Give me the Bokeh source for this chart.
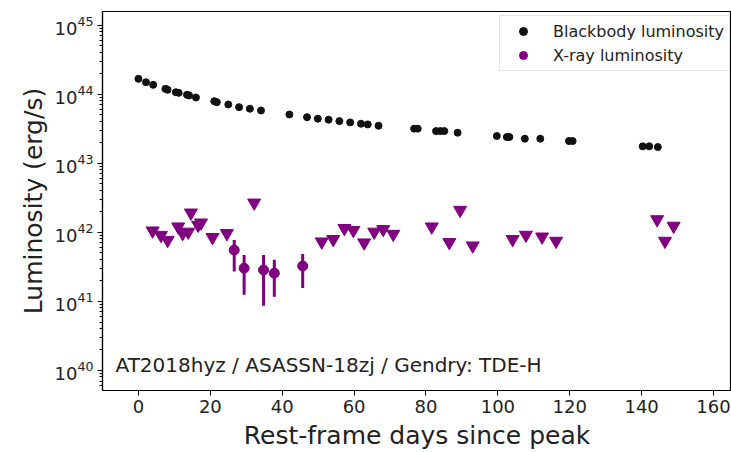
from bokeh.plotting import figure
from bokeh.models import (Range1d, FixedTicker, LogTickFormatter, Label,
                          Legend, LegendItem, ColumnDataSource)
from bokeh.embed import file_html
from bokeh.resources import INLINE

# ---- data ----
bb_days = [0.0, 2.1, 4.1, 7.5, 8.1, 10.4, 11.2, 13.5, 14.1, 16.0,
           21.1, 21.8, 25.0, 28.0, 31.0, 34.1, 42.0,
           46.9, 49.9, 52.9, 55.9, 58.9, 61.9, 63.8, 66.8,
           76.7, 77.7, 82.8, 84.0, 85.1, 88.8, 99.7, 102.5, 103.2,
           107.5, 111.8, 119.8, 120.8, 140.3, 142.1, 144.5]
bb_lum = [1.663e44, 1.483e44, 1.361e44, 1.191e44, 1.153e44, 1.064e44, 1.042e44,
          9.77e43, 9.55e43, 8.93e43,
          7.89e43, 7.64e43, 7.08e43, 6.47e43, 6.14e43, 5.79e43, 5.07e43,
          4.63e43, 4.40e43, 4.26e43, 4.06e43, 3.89e43, 3.72e43, 3.64e43, 3.48e43,
          3.16e43, 3.16e43, 2.91e43, 2.91e43, 2.91e43, 2.76e43, 2.47e43, 2.39e43, 2.39e43,
          2.26e43, 2.26e43, 2.09e43, 2.09e43, 1.75e43, 1.75e43, 1.71e43]

xul_days = [3.95, 6.26, 8.12, 11.07, 12.3, 13.86, 14.6, 16.6, 17.4, 20.6, 24.6,
            32.2, 51.0, 54.2, 57.3, 59.8, 62.8, 65.6, 68.1, 70.9,
            81.6, 86.5, 89.5, 93.0, 104.1, 107.8, 112.3, 116.2,
            144.3, 146.5, 148.9]
xul_lum = [1.05e42, 9.06e41, 7.67e41, 1.20e42, 9.62e41, 1.01e42, 1.91e42, 1.27e42,
           1.37e42, 8.43e41, 9.62e41,
           2.66e42, 7.28e41, 7.89e41, 1.14e42, 1.07e42, 7.05e41, 1.01e42, 1.10e42, 9.40e41,
           1.20e42, 7.13e41, 2.09e42, 6.37e41, 7.89e41, 9.10e41, 8.59e41, 7.45e41,
           1.53e42, 7.45e41, 1.23e42]

xdet_days = [26.65, 29.4, 34.8, 37.8, 45.7]
xdet_lum = [5.52e41, 3.01e41, 2.84e41, 2.55e41, 3.24e41]
xdet_lo = [2.69e41, 1.24e41, 8.59e40, 1.16e41, 1.55e41]
xdet_hi = [7.71e41, 4.68e41, 4.68e41, 3.98e41, 4.84e41]

x_ticks = [0, 20, 40, 60, 80, 100, 120, 140, 160]
y_exponents = [40, 41, 42, 43, 44, 45]

label_text = "AT2018hyz / ASASSN-18zj / Gendry: TDE-H"
FONT = "DejaVu Sans"
PURPLE = "#800080"
TXT = "#222222"

# ---- figure ----
p = figure(width=731, height=452, y_axis_type="log",
           x_range=Range1d(-10, 165), y_range=Range1d(5.1e39, 1.57e45),
           output_backend="svg", toolbar_location=None,
           min_border_left=102, min_border_right=0,
           min_border_top=11, min_border_bottom=61)
p.grid.visible = False
p.outline_line_color = "black"
p.outline_line_width = 1.2
p.background_fill_color = "white"
p.border_fill_color = "white"

major_y = [10.0 ** e for e in y_exponents]
minor_y = [m * 10.0 ** e for e in range(39, 46) for m in range(2, 10)]
p.yaxis.ticker = FixedTicker(ticks=major_y, minor_ticks=minor_y)
p.yaxis.formatter = LogTickFormatter()
p.xaxis.ticker = FixedTicker(ticks=x_ticks, minor_ticks=[])

for ax in (p.xaxis[0], p.yaxis[0]):
    ax.axis_line_color = "black"
    ax.axis_line_width = 1.2
    ax.major_tick_in = 0
    ax.major_tick_out = 5
    ax.minor_tick_in = 0
    ax.minor_tick_out = 3
    ax.major_tick_line_color = "black"
    ax.minor_tick_line_color = "black"
    ax.major_label_text_font = FONT
    ax.major_label_text_font_size = "18px"
    ax.major_label_text_color = TXT
    ax.axis_label_text_font = FONT
    ax.axis_label_text_font_size = "25px"
    ax.axis_label_text_font_style = "normal"
    ax.axis_label_text_color = TXT

p.xaxis.axis_label = "Rest-frame days since peak"
p.yaxis.axis_label = "Luminosity (erg/s)"
p.xaxis.major_label_standoff = 4
p.xaxis.axis_label_standoff = 5
p.yaxis.major_label_standoff = 4
p.yaxis.axis_label_standoff = 4

# ---- glyphs ----
bb_src = ColumnDataSource(dict(x=bb_days, y=bb_lum))
r_bb = p.scatter("x", "y", source=bb_src, marker="circle", size=7,
                 fill_color="#111111", line_color="#111111")

ul_src = ColumnDataSource(dict(x=xul_days, y=xul_lum))
p.scatter("x", "y", source=ul_src, marker="inverted_triangle", size=13,
          fill_color=PURPLE, line_color=PURPLE)

det_src = ColumnDataSource(dict(x=xdet_days, y=xdet_lum, lo=xdet_lo, hi=xdet_hi))
p.segment(x0="x", y0="lo", x1="x", y1="hi", source=det_src,
          line_color=PURPLE, line_width=3)
r_det = p.scatter("x", "y", source=det_src, marker="circle", size=10,
                  fill_color=PURPLE, line_color=PURPLE)

# ---- legend ----
legend = Legend(items=[LegendItem(label="Blackbody luminosity", renderers=[r_bb]),
                       LegendItem(label="X-ray luminosity", renderers=[r_det])],
                location=(397, 319))
legend.label_text_font = FONT
legend.label_text_font_size = "16px"
legend.label_text_color = TXT
legend.glyph_width = 36
legend.label_standoff = 12
legend.spacing = 4
legend.padding = 5
legend.margin = 0
legend.border_line_color = "#cccccc"
legend.background_fill_alpha = 0.9
p.add_layout(legend)

p.add_layout(Label(x=13, y=14, x_units="screen", y_units="screen",
                   text=label_text, text_font=FONT, text_font_size="20px",
                   text_color=TXT))

open("out.html", "w").write(file_html(p, INLINE))
